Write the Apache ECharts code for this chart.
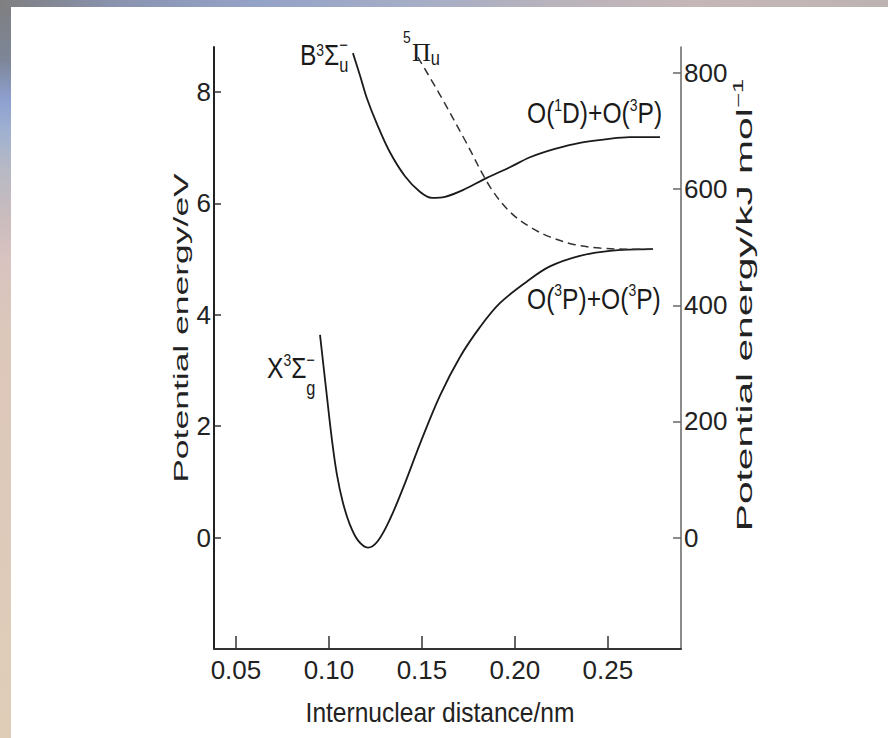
<!DOCTYPE html>
<html>
<head>
<meta charset="utf-8">
<script src="https://cdn.jsdelivr.net/npm/echarts@6/dist/echarts.min.js"></script>
<style>
html,body{margin:0;padding:0;width:888px;height:738px;overflow:hidden;background:#fff;}
#leftStrip{position:absolute;left:0;top:0;width:11px;height:738px;
 background:linear-gradient(to bottom,#7f7f80 0px,#7d8698 60px,#8ea0d0 100px,#9fb0d0 130px,#b7b9c4 170px,#cbbcbe 220px,#d8c3c0 260px,#dcc7bb 330px,#e0cdb8 738px);}
#topStrip{position:absolute;left:0;top:0;width:888px;height:7px;
 background:linear-gradient(to right,#7f7f80 0px,#8a94b0 120px,#95a3c8 260px,#a6aec6 420px,#b9b3bb 560px,#c6b7b7 700px,#bdb3b3 888px);}
#chart{position:absolute;left:0;top:0;width:888px;height:738px;}
</style>
</head>
<body>
<div id="leftStrip"></div>
<div id="topStrip"></div>
<div id="chart"></div>
<script>
// ---- data ----
const xTicks = [0.05, 0.10, 0.15, 0.20, 0.25];          // nm
const eVTicks = [0, 2, 4, 6, 8];                          // eV
const kJTicks = [0, 200, 400, 600, 800];                  // kJ/mol
const xRange = [0.0382, 0.2893];
const eVRange = [-2, 8.81];
const kJRange = [-192, 845];

// X 3Σg− ground state (solid)
const stateX = [
  [0.0952, 3.64], [0.0984, 2.69], [0.1016, 1.76], [0.1043, 1.13], [0.1075, 0.63],
  [0.1113, 0.23], [0.1156, -0.05], [0.1210, -0.18], [0.1263, -0.06], [0.1328, 0.33],
  [0.1409, 0.98], [0.1489, 1.68], [0.1597, 2.55], [0.1704, 3.24], [0.1812, 3.78],
  [0.1919, 4.21], [0.2065, 4.60], [0.2188, 4.87], [0.2349, 5.06], [0.2511, 5.15],
  [0.2742, 5.18]
];
// B 3Σu− state (solid)
const stateB = [
  [0.1129, 8.70], [0.1167, 8.30], [0.1204, 7.89], [0.1258, 7.43], [0.1328, 6.92],
  [0.1409, 6.49], [0.1489, 6.21], [0.1554, 6.10], [0.1624, 6.12], [0.1720, 6.24],
  [0.1849, 6.46], [0.1973, 6.65], [0.2081, 6.83], [0.2215, 6.98], [0.2349, 7.09],
  [0.2484, 7.15], [0.2618, 7.19], [0.2780, 7.19]
];
// 5Πu state (dashed)
const statePi = [
  [0.1478, 8.63], [0.1597, 7.95], [0.1731, 7.14], [0.1866, 6.30], [0.1973, 5.85],
  [0.2081, 5.58], [0.2188, 5.40], [0.2323, 5.26], [0.2457, 5.20], [0.2618, 5.18],
  [0.2742, 5.18]
];
// state labels: anchor (data coords) and text parts
const stateLabels = [
  { at: [0.0844, 8.68], parts: [['B', 'm'], ['3', 'sup'], ['Σ', 'm'], ['−', 'over'], ['u', 'under']] },
  { at: [0.1446, 8.72], parts: [['5', 'pre'], ['Π', 'pi'], ['u', 'under']] },
  { at: [0.2065, 7.64], parts: [['O(', 'm'], ['1', 'sup'], ['D)+O(', 'm'], ['3', 'sup'], ['P)', 'm']] },
  { at: [0.2065, 4.30], parts: [['O(', 'm'], ['3', 'sup'], ['P)+O(', 'm'], ['3', 'sup'], ['P)', 'm']] },
  { at: [0.0667, 3.06], parts: [['X', 'm'], ['3', 'sup'], ['Σ', 'm'], ['−', 'over'], ['g', 'under']] }
];
const xTitle = 'Internuclear distance/nm';
const yTitleLeft = 'Potential energy/eV';
const yTitleRight = ['Potential energy/kJ mol', '−1'];

// ---- styling ----
const SANS = "'Liberation Sans',Arial,Helvetica,sans-serif";
const SERIF = "'Liberation Serif','Times New Roman',serif";
const INK = '#1a1a1a';
const NARROW_SCALE = 0.82;

const partStyle = {
  m: { size: 30, dy: 0 },
  sup: { size: 17, dy: -6 },
  over: { size: 18, dy: -10, keep: true },
  under: { size: 20, dy: 11 },
  pi: { size: 26, dy: 0, family: SERIF, sx: 1 },
  pre: { size: 17, dy: -15, dx: -9, keep: true }
};
const labelTweaks = [
  { sup: { dy: -4 } },
  { under: { dy: 6 } },
  { sup: { dy: -7 } },
  { sup: { dy: -8 } },
  { sup: { dy: -7 }, over: { dy: -8 }, under: { dy: 21 } }
];

const chart = echarts.init(document.getElementById('chart'), null, { renderer: 'svg', width: 888, height: 738 });

const tickFont = { fontFamily: SANS, fontSize: 26, color: '#222' };

const option = {
  backgroundColor: 'transparent',
  animation: false,
  grid: { left: 214, right: 207, top: 47, bottom: 89, containLabel: false },
  xAxis: {
    type: 'value', min: xRange[0], max: xRange[1],
    axisLine: { show: true, onZero: false, lineStyle: { color: '#333', width: 2 } },
    axisTick: { show: true, inside: true, length: 13, customValues: xTicks, lineStyle: { color: '#333', width: 1.5 } },
    axisLabel: Object.assign({ show: true, margin: 8, customValues: xTicks, formatter: v => v.toFixed(2) }, tickFont),
    splitLine: { show: false }
  },
  yAxis: [
    {
      type: 'value', min: eVRange[0], max: eVRange[1], position: 'left',
      axisLine: { show: true, onZero: false, lineStyle: { color: '#222', width: 2 } },
      axisTick: { show: true, inside: true, length: 7, customValues: eVTicks, lineStyle: { color: '#333', width: 1.5 } },
      axisLabel: Object.assign({ show: true, margin: 3, customValues: eVTicks }, tickFont),
      splitLine: { show: false }
    },
    {
      type: 'value', min: kJRange[0], max: kJRange[1], position: 'right',
      axisLine: { show: true, onZero: false, lineStyle: { color: '#666', width: 1.5 } },
      axisTick: { show: true, inside: true, length: 8, customValues: kJTicks, lineStyle: { color: '#666', width: 1.5 } },
      axisLabel: Object.assign({ show: true, margin: 3, customValues: kJTicks }, tickFont),
      splitLine: { show: false }
    }
  ],
  series: [
    { name: 'X3Σg−', type: 'line', data: stateX, yAxisIndex: 0, smooth: 0.35, symbol: 'none',
      lineStyle: { color: INK, width: 1.8 } },
    { name: 'B3Σu−', type: 'line', data: stateB, yAxisIndex: 0, smooth: 0.35, symbol: 'none',
      lineStyle: { color: INK, width: 1.8 } },
    { name: '5Πu', type: 'line', data: statePi, yAxisIndex: 0, smooth: 0.35, symbol: 'none',
      lineStyle: { color: '#333', width: 1.5, type: [8, 5] } }
  ]
};
chart.setOption(option);

// ---- labels and axis titles as text ----
const mctx = document.createElement('canvas').getContext('2d');
function textWidth(t, font) { mctx.font = font; return mctx.measureText(t).width; }

const elements = [];
stateLabels.forEach((lbl, i) => {
  const p = chart.convertToPixel({ xAxisIndex: 0, yAxisIndex: 0 }, lbl.at);
  let cur = 0;
  lbl.parts.forEach(([t, k]) => {
    const st = Object.assign({}, partStyle[k], (labelTweaks[i] || {})[k] || {});
    const font = st.size + 'px ' + (st.family || SANS);
    const sx = st.sx !== undefined ? st.sx : NARROW_SCALE;
    const x = st.dx !== undefined ? st.dx : cur;
    elements.push({
      type: 'text', x: p[0] + x, y: p[1] + st.dy, scaleX: sx, scaleY: 1, silent: true,
      style: { text: t, font: font, fill: INK, align: 'left', verticalAlign: 'middle' }
    });
    if (!st.keep) cur = x + textWidth(t, font) * sx;
  });
});

elements.push({
  type: 'text', x: 440, y: 713, scaleX: 0.91, scaleY: 1, silent: true,
  style: { text: xTitle, font: '27px ' + SANS, fill: '#222', align: 'center', verticalAlign: 'middle' }
});
elements.push({
  type: 'text', x: 180.5, y: 328, rotation: Math.PI / 2, scaleX: 1.69, scaleY: 1, silent: true,
  style: { text: yTitleLeft, font: '21px ' + SANS, fill: '#222', align: 'center', verticalAlign: 'middle' }
});
elements.push({
  type: 'text', x: 744, y: 305, rotation: Math.PI / 2, scaleX: 1.85, scaleY: 1, silent: true,
  style: {
    text: '{m|' + yTitleRight[0] + '}{s|' + yTitleRight[1] + '}', align: 'center', verticalAlign: 'middle', fill: '#222',
    rich: {
      m: { fontSize: 22, fontFamily: SANS, fill: '#222', lineHeight: 26 },
      s: { fontSize: 14, fontFamily: SANS, fill: '#222', verticalAlign: 'top', lineHeight: 26 }
    }
  }
});

chart.setOption({ graphic: { elements: elements } });
</script>
</body>
</html>
